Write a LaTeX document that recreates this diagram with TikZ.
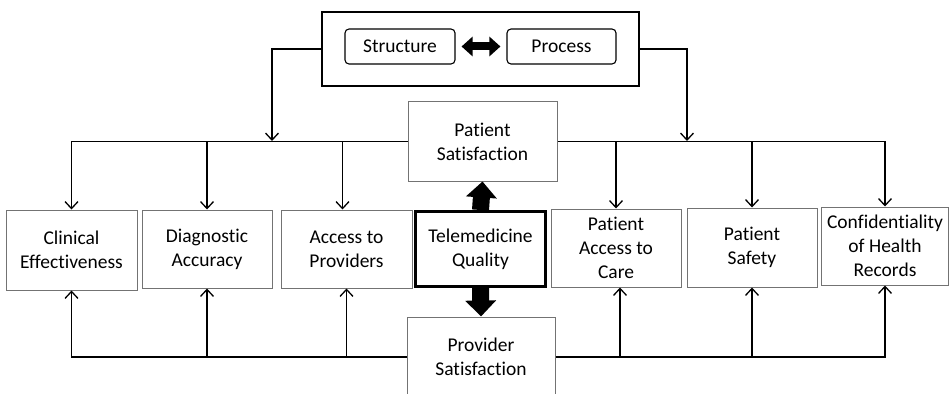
\documentclass[tikz,border=0pt]{standalone}
\usepackage{fontspec}
\setmainfont{Carlito}[Ligatures=NoCommon]
\usetikzlibrary{arrows.meta,calc}

\begin{document}
\begin{tikzpicture}[x=1pt,y=-1pt,
  every node/.style={inner sep=0pt, align=center,
    font=\fontsize{19.5}{24}\selectfont},
  box/.style={draw=black!55, line width=1pt, rectangle},
  keybox/.style={draw=black, line width=3pt, rectangle},
  pill/.style={draw=black, line width=1.1pt, rounded corners=4pt},
  frame/.style={draw=black, line width=1.4pt},
  conn/.style={draw=black, line width=1.3pt,
    -{Straight Barb[length=7pt,width=13pt,line width=1.3pt]}},
  block/.style={draw=black, line width=17pt, line cap=butt,
    -{Triangle[width=30pt,length=16pt]}},
  dblock/.style={draw=black, line width=8pt, line cap=butt,
    {Triangle[width=19pt,length=11pt]}-{Triangle[width=19pt,length=11pt]},
    shorten <=6pt, shorten >=6pt}
]
\useasboundingbox (0,0) rectangle (949,393);

% top group: structure and process
\node[frame, minimum width=317pt, minimum height=74pt] (top) at (480.5,49) {};
\node[pill, minimum width=110pt, minimum height=35pt] (str) at (400,46.5) {Structure};
\node[pill, minimum width=109pt, minimum height=35pt] (pro) at (561.5,46.5) {Process};
\draw[dblock] (str.east) -- (pro.west);

% satisfaction boxes
\node[box, minimum width=149pt, minimum height=79pt] (ps) at (482.5,141.5) {Patient\\Satisfaction};
\node[box, minimum width=148pt, minimum height=80pt] (prs) at (481,357) {Provider\\Satisfaction};

% quality dimensions
\node[box, minimum width=131pt, minimum height=80pt] (ce) at (71.5,250) {Clinical\\Effectiveness};
\node[box, minimum width=130pt, minimum height=78pt] (da) at (207,249) {Diagnostic\\Accuracy};
\node[box, minimum width=131pt, minimum height=78pt] (ap) at (346.5,249) {Access to\\Providers};
\node[keybox, minimum width=130pt, minimum height=75pt] (tq) at (480.5,249) {Telemedicine\\Quality};
\node[box, minimum width=130pt, minimum height=78pt] (pac) at (616,248) {Patient\\Access to\\Care};
\node[box, minimum width=130pt, minimum height=79pt] (saf) at (752,247.5) {Patient\\Safety};
\node[box, minimum width=127pt, minimum height=78pt] (conf) at (885,246) {Confidentiality\\of Health\\Records};

% block arrows from the quality box
\draw[block] (tq.north) -- (ps.south);
\draw[block] (tq.south) -- (prs.north);

% feeds from structure/process onto the upper bus
\coordinate (jl) at (272,141);
\coordinate (jr) at (687,141);
\draw[conn] (top.west) -| (jl);
\draw[conn] (top.east) -| (jr);

% upper bus and its drops
\draw[conn] (ps.west) -| (ce.north);
\draw[conn] (ps.east) -| (conf.north);
\draw[conn] (da.north |- ps.west) -- (da.north);
\draw[conn] ([xshift=-4pt]ap.north |- ps.west) -- ([xshift=-4pt]ap.north);
\draw[conn] (pac.north |- ps.east) -- (pac.north);
\draw[conn] (saf.north |- ps.east) -- (saf.north);

% lower bus and its risers
\draw[conn] (prs.west) -| (ce.south);
\draw[conn] (prs.east) -| (conf.south);
\draw[conn] (da.south |- prs.west) -- (da.south);
\draw[conn] (ap.south |- prs.west) -- (ap.south);
\draw[conn] ([xshift=4pt]pac.south |- prs.east) -- ([xshift=4pt]pac.south);
\draw[conn] (saf.south |- prs.east) -- (saf.south);
\end{tikzpicture}
\end{document}
